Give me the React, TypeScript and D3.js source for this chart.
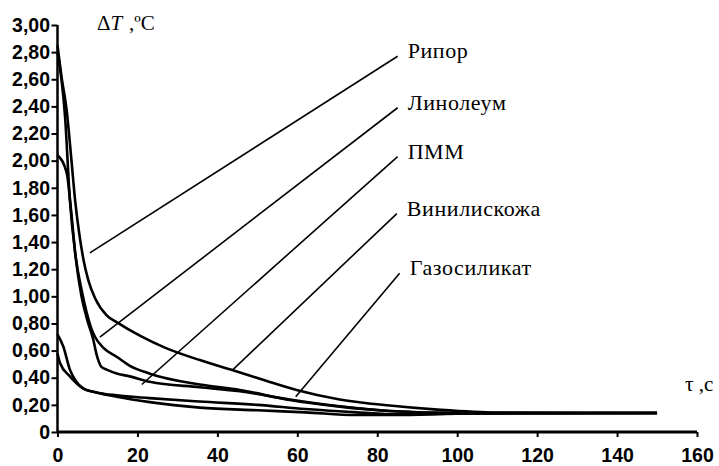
import React, { useEffect, useRef } from 'react';
import * as d3 from 'd3';

const W = 719;
const H = 466;

// axis ticks
const xTicks = [0, 20, 40, 60, 80, 100, 120, 140, 160];
const yTicks = [0, 0.2, 0.4, 0.6, 0.8, 1.0, 1.2, 1.4, 1.6, 1.8, 2.0, 2.2, 2.4, 2.6, 2.8, 3.0];
const yTickLabels = ['0', '0,20', '0,40', '0,60', '0,80', '1,00', '1,20', '1,40', '1,60', '1,80', '2,00', '2,20', '2,40', '2,60', '2,80', '3,00'];

// curves, [tau (s), dT (°C)]
const ripor: [number, number][] = [
  [0, 2.85], [1, 2.62], [2.3, 2.37], [3.5, 2.0], [4.4, 1.71], [5.5, 1.45], [6.5, 1.27], [7.7, 1.12],
  [9.5, 0.98], [12.3, 0.86], [14.8, 0.81], [20.6, 0.71], [27, 0.62], [35.6, 0.53], [43.9, 0.455],
  [52, 0.38], [59.8, 0.31], [70.6, 0.24], [83.1, 0.195], [95, 0.165], [110, 0.143], [150, 0.14],
];
const linoleum: [number, number][] = [
  [0, 2.8], [1.9, 2.32], [3.1, 1.71], [4.5, 1.3], [6, 1.05], [7.3, 0.88], [8.5, 0.76], [9.4, 0.7],
  [11.5, 0.62], [14.8, 0.555], [18, 0.49], [23.1, 0.43], [35.6, 0.35], [45.6, 0.31], [58.1, 0.236],
  [70.6, 0.187], [83.1, 0.155], [100, 0.14], [150, 0.14],
];
const pmm: [number, number][] = [
  [0, 2.04], [2.3, 1.91], [3.5, 1.6], [4.5, 1.3], [6, 1.0], [7.5, 0.82], [8.96, 0.68], [9.7, 0.58],
  [10.2, 0.53], [11, 0.48], [12.3, 0.46], [15, 0.43], [18.1, 0.41], [23.1, 0.37], [35.6, 0.33],
  [45.6, 0.3], [58.1, 0.24], [70.6, 0.19], [83.1, 0.155], [100, 0.14], [150, 0.14],
];
const vinil: [number, number][] = [
  [0, 0.72], [1.45, 0.63], [3.1, 0.46], [4.5, 0.38], [6.5, 0.32], [10, 0.29], [14.8, 0.27], [23, 0.25],
  [35.6, 0.225], [50, 0.2], [62, 0.17], [75, 0.145], [85, 0.13], [100, 0.137], [150, 0.14],
];
const gazosilikat: [number, number][] = [
  [0, 0.58], [0.6, 0.51], [3.1, 0.41], [6.5, 0.32], [10, 0.29], [14.8, 0.26], [23.1, 0.22], [35.6, 0.18],
  [50, 0.16], [62, 0.145], [74.8, 0.125], [85, 0.125], [100, 0.135], [150, 0.14],
];
const allSeries = [ripor, linoleum, pmm, vinil, gazosilikat];

// callouts: label, where the leader starts, where it points
const labels = ['Рипор', 'Линолеум', 'ПММ', 'Винилискожа', 'Газосиликат'];
const leaderStarts: [number, number][] = [[85.1, 2.77], [85.1, 2.39], [85.1, 2.03], [84.9, 1.61], [85.6, 1.17]];
const leaderEnds: [number, number][] = [[8.1, 1.32], [10.6, 0.7], [21.1, 0.35], [43.9, 0.46], [59.6, 0.26]];

export default function App() {
  const ref = useRef<SVGSVGElement>(null);

  useEffect(() => {
    const svg = d3.select(ref.current);
    svg.selectAll('*').remove();

    const x = d3.scaleLinear().domain([0, 160]).range([57.5, 697]);
    const y = d3.scaleLinear().domain([0, 3]).range([432, 25]);

    const sans = 'Liberation Sans, Arial, sans-serif';
    const serif = 'Liberation Serif, Times New Roman, serif';

    // y axis
    const yAxis = svg.append('g').attr('transform', `translate(${x(0)},0)`)
      .call(d3.axisLeft(y).tickValues(yTicks).tickSize(6).tickPadding(1.5)
        .tickFormat((_, i) => yTickLabels[i]));
    yAxis.select('.domain').attr('stroke-width', 2.5).attr('d', `M-0,${y(0)}V${y(3)}`);
    yAxis.selectAll('.tick line').attr('stroke-width', 2);
    yAxis.selectAll('.tick text')
      .attr('font-family', sans).attr('font-weight', 'bold').attr('font-size', 19.5).attr('fill', '#000');

    // x axis
    const xAxis = svg.append('g').attr('transform', `translate(0,${y(0)})`)
      .call(d3.axisBottom(x).tickValues(xTicks).tickSize(5).tickPadding(11).tickFormat(d3.format('d')));
    xAxis.select('.domain').attr('stroke-width', 3).attr('d', `M${x(0)},0H${x(160)}`);
    xAxis.selectAll('.tick line').attr('stroke-width', 2);
    xAxis.selectAll('.tick text')
      .attr('font-family', sans).attr('font-weight', 'bold').attr('font-size', 19.5).attr('fill', '#000');

    // curves
    const ln = d3.line<[number, number]>()
      .x(d => x(d[0]))
      .y(d => y(d[1]))
      .curve(d3.curveMonotoneX);

    svg.append('g').selectAll('path').data(allSeries).join('path')
      .attr('d', d => ln(d))
      .attr('fill', 'none')
      .attr('stroke', '#000')
      .attr('stroke-width', 2.6)
      .attr('stroke-linejoin', 'round');

    // callouts
    svg.append('g').selectAll('line').data(labels).join('line')
      .attr('x1', (_, i) => x(leaderStarts[i][0]))
      .attr('y1', (_, i) => y(leaderStarts[i][1]))
      .attr('x2', (_, i) => x(leaderEnds[i][0]))
      .attr('y2', (_, i) => y(leaderEnds[i][1]))
      .attr('stroke', '#000')
      .attr('stroke-width', 1.6);

    svg.append('g').selectAll('text').data(labels).join('text')
      .attr('x', (_, i) => x(leaderStarts[i][0]) + 10)
      .attr('y', (_, i) => y(leaderStarts[i][1]) + 2)
      .attr('font-family', serif)
      .attr('font-size', 22)
      .attr('letter-spacing', 0.6)
      .text(d => d);

    // axis titles
    const t = svg.append('text').attr('x', 97).attr('y', 30)
      .attr('font-family', serif).attr('font-size', 21);
    t.append('tspan').text('Δ');
    t.append('tspan').attr('font-style', 'italic').text('T');
    t.append('tspan').attr('x', 129).text(',ºC');

    svg.append('text').attr('x', 685).attr('y', 391)
      .attr('font-family', serif).attr('font-size', 21)
      .text('τ ,c');
  }, []);

  return (
    <svg
      ref={ref}
      width={W}
      height={H}
      style={{ position: 'absolute', left: 0, top: 0, background: '#fff' }}
    />
  );
}
